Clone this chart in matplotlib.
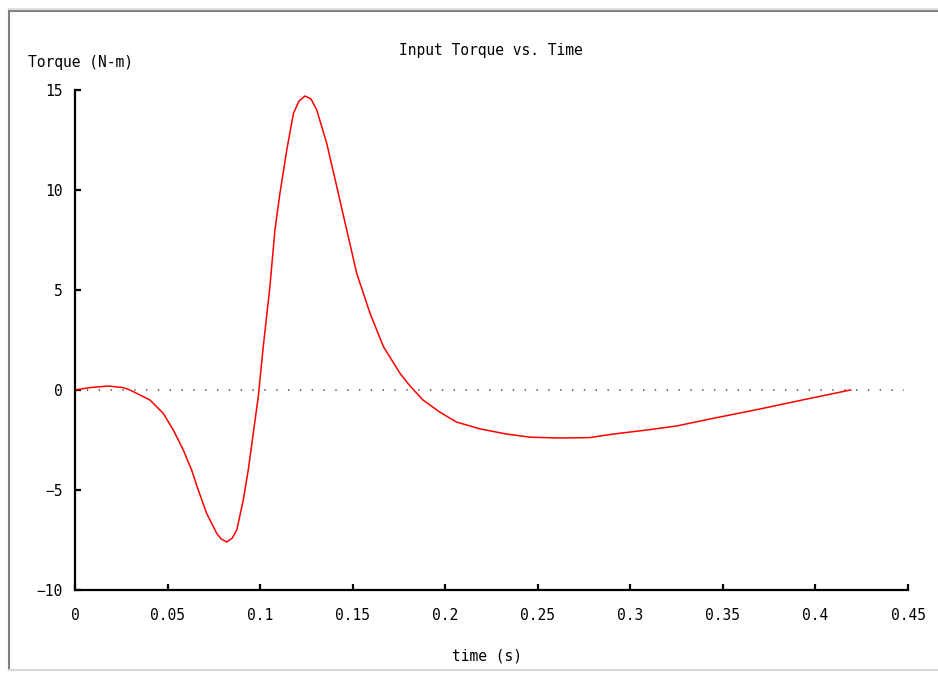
import matplotlib.pyplot as plt
from matplotlib.lines import Line2D

# Input torque curve
time = [0, 0.008, 0.018, 0.026, 0.0297, 0.0405, 0.0477, 0.0531, 0.0585, 0.063,
        0.0666, 0.0711, 0.0766, 0.079, 0.082, 0.085, 0.0874, 0.0909, 0.0936,
        0.0963, 0.099, 0.1017, 0.1053, 0.108, 0.1107, 0.1144, 0.118, 0.121,
        0.1243, 0.1275, 0.1306, 0.136, 0.1414, 0.1468, 0.1522, 0.1594, 0.1666,
        0.1756, 0.181, 0.188, 0.197, 0.206, 0.219, 0.233, 0.246, 0.262, 0.278,
        0.291, 0.309, 0.325, 0.343, 0.370, 0.397, 0.419]
torque = [0, 0.12, 0.2, 0.12, 0.0, -0.5, -1.17, -2.0, -3.0, -4.0,
          -5.0, -6.17, -7.17, -7.45, -7.6, -7.4, -7.0, -5.5, -4.0,
          -2.17, -0.33, 2.17, 5.17, 8.0, 9.83, 12.0, 13.83, 14.45,
          14.7, 14.55, 14.0, 12.33, 10.17, 8.0, 5.83, 3.83, 2.17,
          0.83, 0.2, -0.5, -1.1, -1.6, -1.95, -2.2, -2.36, -2.4, -2.38,
          -2.2, -2.0, -1.8, -1.45, -0.95, -0.42, 0.0]

xticks = [0, 0.05, 0.1, 0.15, 0.2, 0.25, 0.3, 0.35, 0.4, 0.45]
xticklabels = ["0", "0.05", "0.1", "0.15", "0.2", "0.25", "0.3", "0.35", "0.4", "0.45"]
yticks = [-10, -5, 0, 5, 10, 15]

plt.rcParams['font.family'] = ['DejaVu Sans Mono']

fig = plt.figure(figsize=(9.38, 6.73), dpi=100)
ax = fig.add_axes([75 / 938, 1 - 590 / 673, 833 / 938, 500 / 673])

ax.plot(time, torque, color="red", linewidth=1.1)
ax.axhline(0, xmin=0, xmax=0.995, color="#555555", linestyle=(0, (0.8, 6.3)),
           linewidth=1.2, zorder=0)

ax.set_xlim(0, 0.45)
ax.set_ylim(-10, 15)
ax.set_xticks(xticks)
ax.set_xticklabels(xticklabels)
ax.set_yticks(yticks)

for side in ["top", "right"]:
    ax.spines[side].set_visible(False)
for side in ["left", "bottom"]:
    ax.spines[side].set_linewidth(1.6)
    ax.spines[side].set_color("black")

ax.tick_params(axis="both", direction="in", length=4, width=1.6, labelsize=10.5)
ax.tick_params(axis="x", pad=13)
ax.tick_params(axis="y", pad=9)

fig.text(491 / 938, 1 - 50 / 673, "Input Torque vs. Time", ha="center", va="center", fontsize=10.5)
fig.text(28 / 938, 1 - 63 / 673, "Torque (N-m)", ha="left", va="center", fontsize=10.5)
fig.text(487 / 938, 1 - 656 / 673, "time (s)", ha="center", va="center", fontsize=10.5)

# grey window frame
fig.add_artist(Line2D([9 / 938, 1], [1 - 11 / 673] * 2, color="#808080", linewidth=1.5))
fig.add_artist(Line2D([9 / 938, 1], [1 - 9 / 673] * 2, color="#e0e0e0", linewidth=1.5))
fig.add_artist(Line2D([9 / 938] * 2, [1 - 11 / 673, 1 - 670 / 673], color="#808080", linewidth=1.5))
fig.add_artist(Line2D([9 / 938, 1], [1 - 670 / 673] * 2, color="#d8d8d8", linewidth=1.5))

fig.savefig("out.png", dpi=100)
